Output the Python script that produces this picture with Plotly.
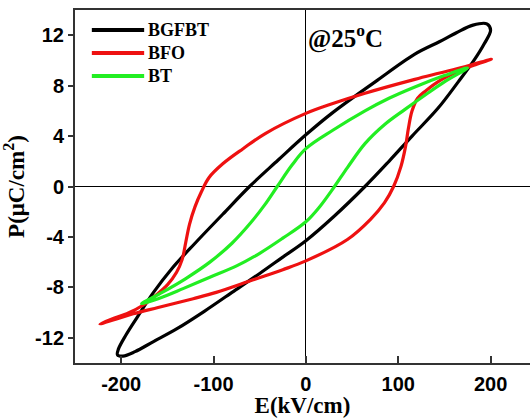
import plotly.graph_objects as go

# ---- data ----
bgfbt_E = [196, 181, 163, 145, 118, 75, 28, 0, -30, -61, -90, -120, -145, -165, -182, -195, -203, -204, -198,
           -185, -165, -140, -110, -80, -50, -25, 0, 30, 64, 90, 115, 143, 165, 182, 193, 200, 196]
bgfbt_P = [12.9, 12.8, 12.2, 11.5, 10.5, 8.3, 5.8, 4.1, 2.1, 0.0, -2.2, -4.5, -6.5, -8.4, -10.3, -11.8, -12.9, -13.35, -13.45,
           -13.1, -12.3, -11.3, -9.9, -8.4, -6.9, -5.6, -4.3, -2.4, 0.0, 2.0, 4.0, 6.2, 8.3, 10.0, 11.3, 12.4, 12.9]

bfo_E = [201, 172, 145, 118, 64, 30, 0, -44, -68, -90, -105, -113, -120, -126, -130, -134, -140, -150, -162, -176, -194, -210, -223,
         -205, -187, -160, -122, -97, -57, -25, 0, 45, 70, 85, 95, 103, 108, 111, 115, 121, 130, 145, 167, 185, 201]
bfo_P = [10.1, 9.5, 9.0, 8.5, 7.4, 6.6, 5.8, 4.2, 3.0, 1.8, 0.7, -0.4, -1.6, -3.0, -4.4, -5.8, -6.8, -7.8, -8.6, -9.4, -10.1, -10.5, -10.9,
         -10.5, -10.1, -9.6, -8.9, -8.4, -7.4, -6.6, -5.9, -4.2, -2.6, -1.3, 0.0, 1.6, 3.2, 4.6, 6.0, 7.0, 7.6, 8.4, 9.2, 9.7, 10.1]

bt_E = [175, 150, 118, 90, 64, 30, 0, -15, -31, -45, -60, -80, -104, -130, -158, -178,
        -160, -133, -104, -75, -50, -25, 0, 15, 31, 45, 64, 85, 107, 130, 150, 175]
bt_P = [9.4, 8.8, 7.9, 7.0, 6.0, 4.5, 3.0, 1.7, 0.0, -1.5, -2.9, -4.5, -6.0, -7.3, -8.5, -9.3,
        -8.9, -8.1, -7.2, -6.3, -5.3, -4.1, -2.8, -1.6, 0.0, 1.5, 3.4, 4.9, 6.1, 7.3, 8.3, 9.4]

series_names = ["BGFBT", "BFO", "BT"]
series_colors = ["#000000", "#ee1111", "#22ee22"]
x_ticks = [-200, -100, 0, 100, 200]
x_labels = ["-200", "-100", "0", "100", "200"]
y_ticks = [-12, -8, -4, 0, 4, 8, 12]
y_labels = ["-12", "-8", "-4", "0", "4", "8", "12"]

serif = "Liberation Serif"
sans = "Liberation Sans"

fig = go.Figure()
for name, E, P, c in zip(series_names, [bgfbt_E, bfo_E, bt_E], [bgfbt_P, bfo_P, bt_P], series_colors):
    fig.add_trace(go.Scatter(x=E, y=P, mode="lines", name=name,
                             line=dict(color=c, width=3.2, shape="spline", smoothing=1.0),
                             showlegend=False))

# manual legend (long line samples like the original)
leg_y = [0.943, 0.878, 0.813]
shapes = []
annos = []
for name, c, yy in zip(series_names, series_colors, leg_y):
    shapes.append(dict(type="line", xref="paper", yref="paper", x0=0.037, x1=0.152, y0=yy, y1=yy,
                       line=dict(color=c, width=4)))
    annos.append(dict(xref="paper", yref="paper", x=0.156, y=yy, text=name, showarrow=False,
                      xanchor="left", yanchor="middle",
                      font=dict(family=serif, size=18, color="black", weight="bold")))

annos.append(dict(xref="x", yref="y", x=0, y=11.9, text="@25<sup>o</sup>C", showarrow=False,
                  xanchor="left", yanchor="middle",
                  font=dict(family=serif, size=25, color="black", weight="bold")))

fig.update_layout(
    width=530, height=418,
    margin=dict(l=75, r=0, t=10, b=55),
    paper_bgcolor="white", plot_bgcolor="white",
    shapes=shapes, annotations=annos,
    xaxis=dict(range=[-250, 242.7], tickvals=x_ticks, ticktext=x_labels, ticks="inside", ticklen=7, tickwidth=1.5,
               tickcolor="#333", showline=True, linecolor="#333", linewidth=2, mirror=True,
               showgrid=False, zeroline=True, zerolinecolor="black", zerolinewidth=1,
               tickfont=dict(family=sans, size=20, color="black", weight="bold"),
               ticklabelstandoff=2,
               title=dict(text="E(kV/cm)", standoff=0,
                          font=dict(family=serif, size=23, color="black", weight="bold"))),
    yaxis=dict(range=[-14, 14], tickvals=y_ticks, ticktext=y_labels, ticks="outside", ticklen=5, tickwidth=1.5,
               tickcolor="#333", showline=True, linecolor="#333", linewidth=2, mirror=False,
               showgrid=False, zeroline=True, zerolinecolor="black", zerolinewidth=1,
               tickfont=dict(family=sans, size=20, color="black", weight="bold"),
               title=dict(text="P(μC/cm<sup>2</sup>)", standoff=5,
                          font=dict(family=serif, size=23, color="black", weight="bold"))),
)

fig.write_html("out.html")
